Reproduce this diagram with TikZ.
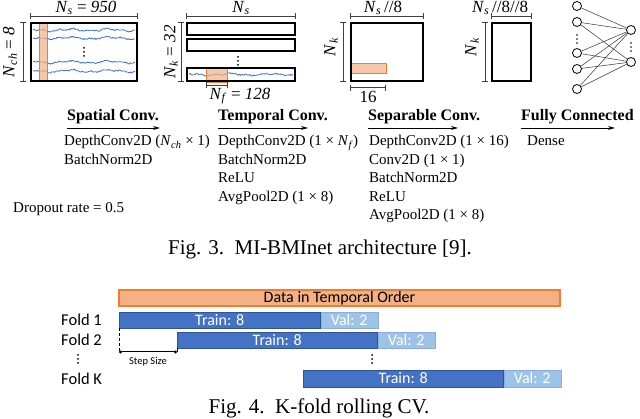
\documentclass[tikz,border=0pt]{standalone}
\usepackage{fontspec}
\setmainfont{Liberation Serif}
\newfontfamily\carl{Carlito}
\usetikzlibrary{arrows.meta}
\definecolor{eegblue}{RGB}{60,110,205}
\definecolor{orfill}{RGB}{244,177,131}
\definecolor{ordraw}{RGB}{237,125,49}
\definecolor{trainblue}{RGB}{68,114,196}
\definecolor{trainedge}{RGB}{47,85,151}
\definecolor{valblue}{RGB}{157,195,230}
\definecolor{valedge}{RGB}{143,170,220}
\newcommand\Nsym[1]{\textit{N}\textsubscript{\textit{#1}}}
\tikzset{
  frame/.style={draw=black, line width=1.3pt, inner sep=0pt, fill=none},
  band/.style={fill=orfill, fill opacity=0.7, draw=ordraw, line width=0.6pt, inner sep=0pt},
  dimline/.style={draw=black!75, line width=0.7pt, {Bar[width=6pt]}-{Bar[width=6pt]}},
  dimlab/.style={font=\fontsize{17}{20}\selectfont, inner sep=0pt},
  wave/.style={eegblue, line width=0.8pt},
  neuron/.style={circle, draw=black, line width=0.8pt, minimum size=9pt, inner sep=0pt},
  synapse/.style={draw=black!80, line width=0.5pt},
  head/.style={font=\fontsize{16}{19}\selectfont\bfseries, anchor=west, inner sep=0pt},
  flow/.style={line width=0.8pt, -{Stealth[length=7pt,width=4pt]}},
  layer/.style={font=\fontsize{15}{18}\selectfont, anchor=base west, inner sep=0pt},
  caption/.style={font=\fontsize{21}{24}\selectfont, inner sep=0pt},
  dotmark/.style={circle, fill=black, inner sep=0pt, minimum size=2pt},
  databar/.style={fill=orfill, draw=ordraw, line width=1.5pt, inner sep=0pt, minimum height=16pt, font=\carl\fontsize{16}{19}\selectfont},
  trainbar/.style={fill=trainblue, draw=trainedge, line width=0.5pt, inner sep=0pt, text=white, font=\carl\fontsize{16}{19}\selectfont, anchor=west},
  valbar/.style={fill=valblue, draw=valedge, line width=0.5pt, inner sep=0pt, text=white, font=\carl\fontsize{16}{19}\selectfont, anchor=west},
  foldlab/.style={font=\carl\fontsize{16.5}{19}\selectfont, anchor=west, inner sep=0pt},
}
\begin{document}
\begin{tikzpicture}[x=1pt,y=-1pt]
\useasboundingbox (0,0) rectangle (640,419);
\pgfmathsetseed{7}
% ---------- Box 1: spatial input ----------
\foreach \yy in {30,38,62,71}{
  \draw[wave] plot[domain=33:135, samples=90] (\x, {\yy + 0.7*rand + 0.9*sin(9*\x) + 0.6*sin(23*\x)});
}
\node[band, minimum width=8pt, minimum height=58pt] (o1) at (43,52) {};
\node[frame, minimum width=106pt, minimum height=58pt] (b1) at (84,52) {};
\node[dotmark] (d1a) at (84,48) {};
\node[dotmark] (d1b) at (84,52) {};
\node[dotmark] (d1c) at (84,56) {};
\draw[dimline] ([yshift=6pt]b1.north west) -- ([yshift=6pt]b1.north east);
\node[dimlab] (l1) at (86,8) {\Nsym{s} = \textit{950}};
\draw[dimline] ([xshift=-7pt]b1.north west) -- ([xshift=-7pt]b1.south west);
\node[dimlab, rotate=90] (l2) at (10,52) {\Nsym{ch} = \textit{8}};
% ---------- Box 2: temporal ----------
\node[frame, minimum width=108pt, minimum height=12pt] (r1) at (241,29) {};
\node[frame, minimum width=108pt, minimum height=12pt] (r2) at (241,45) {};
\node[dotmark] (d2a) at (238,57) {};
\node[dotmark] (d2b) at (238,61) {};
\node[dotmark] (d2c) at (238,65) {};
\draw[wave] plot[domain=189:293, samples=90] (\x, {74.5 + 0.7*rand + 0.8*sin(9*\x) + 0.5*sin(23*\x)});
\node[band, minimum width=21pt, minimum height=15pt] (o2) at (216.5,74.5) {};
\node[frame, minimum width=108pt, minimum height=13pt] (r3) at (241,74.5) {};
\draw[dimline] ([yshift=6pt]r1.north west) -- ([yshift=6pt]r1.north east);
\node[dimlab] (l3) at (241,8) {\Nsym{s}};
\draw[dimline] ([xshift=-5pt]r1.north west) -- ([xshift=-5pt]r3.south west);
\node[dimlab, rotate=90] (l4) at (171,52) {\Nsym{k} = \textit{32}};
\draw[dimline] ([yshift=-3pt]o2.south west) -- ([yshift=-3pt]o2.south east);
\node[dimlab] (l5) at (240,96) {\Nsym{f} = \textit{128}};
% ---------- Box 3: separable ----------
\node[band, minimum width=35pt, minimum height=10pt] (o3) at (368.5,68) {};
\node[frame, minimum width=72pt, minimum height=58pt] (b3) at (387,52) {};
\draw[dimline] ([yshift=6pt]b3.north west) -- ([yshift=6pt]b3.north east);
\node[dimlab] (l6) at (383,8) {\Nsym{s}\,//8};
\draw[dimline] ([xshift=-7pt]b3.north west) -- ([xshift=-7pt]b3.south west);
\node[dimlab, rotate=90] (l7) at (331,47) {\Nsym{k}};
\draw[dimline] ([yshift=-6pt]b3.south west) -- ([yshift=-6pt,xshift=35pt]b3.south west);
\node[dimlab] (l8) at (368,97) {16};
% ---------- Box 4 ----------
\node[frame, minimum width=39pt, minimum height=58pt] (b4) at (511.5,52) {};
\draw[dimline] ([yshift=6pt]b4.north west) -- ([yshift=6pt]b4.north east);
\node[dimlab] (l9) at (500,8) {\Nsym{s}\,//8//8};
\draw[dimline] ([xshift=-6pt]b4.north west) -- ([xshift=-6pt]b4.south west);
\node[dimlab, rotate=90] (l10) at (472,47) {\Nsym{k}};
% ---------- Dense network ----------
\node[neuron] (i1) at (577,6) {};
\node[neuron] (i2) at (577,22) {};
\node[neuron] (i3) at (577,53) {};
\node[neuron] (i4) at (577,69) {};
\node[neuron] (i5) at (577,89) {};
\node[neuron] (h1) at (631,30) {};
\node[neuron] (h2) at (631,62) {};
\node[dotmark, minimum size=1.8pt] (d4a) at (577,35) {};
\node[dotmark, minimum size=1.8pt] (d4b) at (577,39) {};
\node[dotmark, minimum size=1.8pt] (d4c) at (577,43) {};
\node[dotmark, minimum size=1.8pt] (d5a) at (631,43) {};
\node[dotmark, minimum size=1.8pt] (d5b) at (631,47) {};
\node[dotmark, minimum size=1.8pt] (d5c) at (631,51) {};
\draw[synapse] (i1) -- (h1);
\foreach \i in {i2,i3,i4,i5}{
  \draw[synapse] (\i) -- (h1);
  \draw[synapse] (\i) -- (h2);
}
% ---------- Stage headers ----------
\node[head] (s1) at (67,117) {Spatial Conv.};
\coordinate (s1a) at (67,128);
\coordinate (s1b) at (160,128);
\draw[flow] (s1a) -- (s1b);
\node[head] (s2) at (218,117) {Temporal Conv.};
\coordinate (s2a) at (218,128);
\coordinate (s2b) at (308,128);
\draw[flow] (s2a) -- (s2b);
\node[head] (s3) at (368,117) {Separable Conv.};
\coordinate (s3a) at (368,128);
\coordinate (s3b) at (458,128);
\draw[flow] (s3a) -- (s3b);
\node[head] (s4) at (521,117) {Fully Connected};
\coordinate (s4a) at (521,128);
\coordinate (s4b) at (615,128);
\draw[flow] (s4a) -- (s4b);
% ---------- Layer lists ----------
\node[layer] (c1a) at (64,146) {DepthConv2D (\Nsym{ch} × 1)};
\node[layer] (c1b) at (64,164.5) {BatchNorm2D};
\node[layer] (c2a) at (218,146) {DepthConv2D (1 × \Nsym{f})};
\node[layer] (c2b) at (218,164.5) {BatchNorm2D};
\node[layer] (c2c) at (218,183) {ReLU};
\node[layer] (c2d) at (218,201.5) {AvgPool2D (1 × 8)};
\node[layer] (c3a) at (369,146) {DepthConv2D (1 × 16)};
\node[layer] (c3b) at (369,164.5) {Conv2D (1 × 1)};
\node[layer] (c3c) at (369,183) {BatchNorm2D};
\node[layer] (c3d) at (369,201.5) {ReLU};
\node[layer] (c3e) at (369,220) {AvgPool2D (1 × 8)};
\node[layer] (c4a) at (527,146) {Dense};
\node[layer] (dr) at (13,213) {Dropout rate = 0.5};
\node[caption, anchor=base] (cap3) at (320,255) {Fig. 3.\ \ MI-BMInet architecture [9].};
% ---------- Fig. 4: K-fold rolling ----------
\node[databar, minimum width=441pt] (data) at (339.5,298) {Data in Temporal Order};
\node[trainbar, minimum width=201pt, minimum height=16pt] (t1) at (119,320) {Train: 8};
\node[valbar, minimum width=57pt, minimum height=16pt] (v1) at (t1.east) {Val: 2};
\node[trainbar, minimum width=200pt, minimum height=16pt] (t2) at (177,340) {Train: 8};
\node[valbar, minimum width=57pt, minimum height=16pt] (v2) at (t2.east) {Val: 2};
\node[trainbar, minimum width=200pt, minimum height=17pt] (tk) at (303,378.5) {Train: 8};
\node[valbar, minimum width=57pt, minimum height=17pt] (vk) at (tk.east) {Val: 2};
\node[foldlab] (f1) at (61,320) {Fold 1};
\node[foldlab] (f2) at (61,340) {Fold 2};
\node[foldlab] (fk) at (61,378.5) {Fold K};
\node[dotmark, minimum size=2pt] (fda) at (78,355) {};
\node[dotmark, minimum size=2pt] (fdb) at (78,359) {};
\node[dotmark, minimum size=2pt] (fdc) at (78,363) {};
\node[dotmark, minimum size=2pt] (mda) at (372,355) {};
\node[dotmark, minimum size=2pt] (mdb) at (372,359) {};
\node[dotmark, minimum size=2pt] (mdc) at (372,363) {};
\coordinate (ss1) at (119,352);
\coordinate (ss2) at (177,352);
\draw[line width=1pt, dashed, dash pattern=on 3pt off 2pt] (t1.south west) -- (ss1);
\draw[line width=1pt] (t2.south west) -- (ss2);
\draw[line width=1pt, {Circle[length=3pt]}-{Circle[length=3pt]}] (ss1) -- (ss2);
\node[font=\carl\fontsize{10.5}{12}\selectfont, inner sep=0pt] (ssl) at (148,362) {Step Size};
\node[caption, anchor=base] (cap4) at (319,413.5) {Fig. 4.\ \ K-fold rolling CV.};
\end{tikzpicture}
\end{document}
